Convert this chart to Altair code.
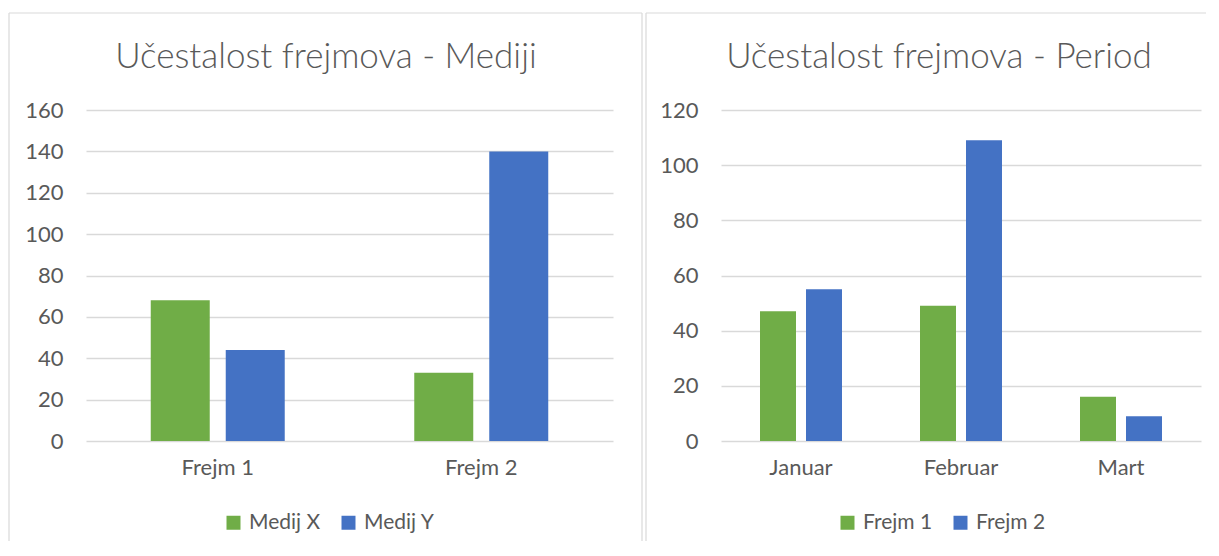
import altair as alt
import pandas as pd

# ---- data ----
left_title = "Učestalost frejmova - Mediji"
left_categories = ["Frejm 1", "Frejm 2"]
left_series = ["Medij X", "Medij Y"]
left_medij_x = [68, 33]
left_medij_y = [44, 140]

right_title = "Učestalost frejmova - Period"
right_categories = ["Januar", "Februar", "Mart"]
right_series = ["Frejm 1", "Frejm 2"]
right_frejm_1 = [47, 49, 16]
right_frejm_2 = [55, 109, 9]

left_ticks = [0, 20, 40, 60, 80, 100, 120, 140, 160]
right_ticks = [0, 20, 40, 60, 80, 100, 120]

GREEN = "#70AD47"
BLUE = "#4472C4"
TEXT = "#595959"
GRID = "#D9D9D9"
FONT = "Lato"

left_df = pd.DataFrame(
    [{"cat": c, "series": left_series[0], "value": v} for c, v in zip(left_categories, left_medij_x)]
    + [{"cat": c, "series": left_series[1], "value": v} for c, v in zip(left_categories, left_medij_y)]
)
right_df = pd.DataFrame(
    [{"cat": c, "series": right_series[0], "value": v} for c, v in zip(right_categories, right_frejm_1)]
    + [{"cat": c, "series": right_series[1], "value": v} for c, v in zip(right_categories, right_frejm_2)]
)

PLOT_H = 331
border_src = alt.Data(values=[{"k": 1}])


def rule(**enc):
    return alt.Chart(border_src).mark_rule(color=GRID, strokeWidth=1.2).encode(**enc)


def panel(df, cats, series, ticks, width, pin, pout, poff, title, title_x, legend_x, borders):
    bars = alt.Chart(df).mark_bar().encode(
        x=alt.X(
            "cat:N",
            sort=cats,
            scale=alt.Scale(paddingInner=pin, paddingOuter=pout),
            axis=alt.Axis(
                title=None, labelAngle=0, domain=False, ticks=False,
                labelFontSize=22, labelColor=TEXT, labelPadding=16, labelFont=FONT,
            ),
        ),
        xOffset=alt.XOffset("series:N", sort=series, scale=alt.Scale(paddingInner=poff, paddingOuter=0)),
        y=alt.Y(
            "value:Q",
            scale=alt.Scale(domain=[ticks[0], ticks[-1]], nice=False),
            axis=alt.Axis(
                title=None, values=ticks, domain=False, ticks=False,
                grid=True, gridColor=GRID, gridWidth=1.5,
                labelFontSize=22, labelColor=TEXT, labelPadding=23, labelFont=FONT,
            ),
        ),
        color=alt.Color(
            "series:N",
            sort=series,
            scale=alt.Scale(domain=series, range=[GREEN, BLUE]),
            legend=alt.Legend(
                title=None, orient="none", legendX=legend_x, legendY=402,
                direction="horizontal", symbolType="square", symbolSize=196,
                symbolStrokeWidth=0, labelFontSize=21, labelColor=TEXT, labelFont=FONT,
                labelOffset=5, columnPadding=17, padding=0,
            ),
        ),
    )
    title_mark = alt.Chart(border_src).mark_text(
        fontSize=35, color=TEXT, font=FONT, fontWeight=300, baseline="alphabetic", align="center",
    ).encode(x=alt.value(title_x), y=alt.value(-42), text=alt.value(title))
    return alt.layer(bars, title_mark, *borders).properties(width=width, height=PLOT_H)


left = panel(
    left_df, left_categories, left_series, left_ticks, 527,
    0.4915, 0.2457, 0.2133, left_title, 240, 137,
    [
        rule(x=alt.value(-77), y=alt.value(-97), y2=alt.value(431)),
        rule(x=alt.value(556), y=alt.value(-97), y2=alt.value(431)),
        rule(x=alt.value(-77), x2=alt.value(556), y=alt.value(-97)),
    ],
)

right = panel(
    right_df, right_categories, right_series, right_ticks, 480,
    0.4875, 0.24375, 0.2174, right_title, 218, 116,
    [
        rule(x=alt.value(-75), y=alt.value(-97), y2=alt.value(431)),
        rule(x=alt.value(-75), x2=alt.value(485), y=alt.value(-97)),
    ],
)

chart = (
    alt.hconcat(left, right, spacing=108, bounds="flush")
    .resolve_scale(color="independent", y="independent", x="independent", xOffset="independent")
    .configure(font=FONT, padding={"top": 4, "left": 0, "right": 0, "bottom": 0}, background="white")
    .configure_view(stroke=None)
)

chart.save("out.html", embed_options={"renderer": "svg", "actions": False})
